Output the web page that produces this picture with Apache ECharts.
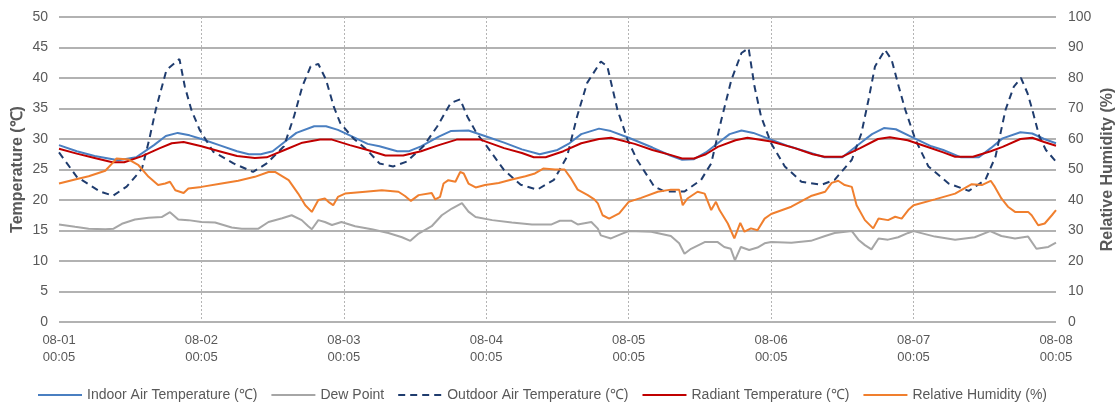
<!DOCTYPE html>
<html>
<head>
<meta charset="utf-8">
<script src="https://cdn.jsdelivr.net/npm/echarts@6/dist/echarts.min.js"></script>
<style>
html,body{margin:0;padding:0;background:#fff;}
#chart{width:1118px;height:405px;}
</style>
</head>
<body>
<div id="chart"></div>
<script>
// x values are hours since 08-01 00:05
const dayLabels = ['08-01','08-02','08-03','08-04','08-05','08-06','08-07','08-08'];
const timeLabel = '00:05';
const seriesNames = ['Indoor Air Temperature (℃)','Dew Point','Outdoor Air Temperature (℃)','Radiant Temperature (℃)','Relative Humidity (%)'];

const indoorAir = [[0,29.0],[3,28.0],[6,27.2],[10,26.5],[13,27.0],[16,29.0],[18,30.5],[20,31.0],[22,30.6],[24,30.0],[27,29.0],[30,28.0],[32,27.5],[34,27.5],[36,28.0],[38,29.5],[40,31.0],[43,32.1],[45,32.1],[47,31.5],[49,30.6],[52,29.2],[54,28.8],[57,28.0],[59,28.0],[61,28.8],[64,30.4],[66,31.3],[69,31.4],[72,30.4],[75,29.4],[78,28.3],[81,27.5],[84,28.2],[86,29.3],[88,30.8],[91,31.7],[93,31.3],[96,30.2],[100,28.6],[103,27.3],[105,26.6],[107,26.7],[109,27.8],[111,29.3],[113,30.8],[115,31.4],[117,31.0],[120,29.9],[123,28.8],[126,27.9],[129,27.0],[132,27.0],[135,29.3],[137,30.8],[139,31.8],[141,31.6],[144,30.2],[147,28.8],[149,28.2],[152,27.0],[155,27.0],[157,28.5],[159,30.1],[162,31.1],[164,30.9],[166,30.0],[168,29.3]];

const radiant = [[0,28.4],[3,27.6],[6,26.9],[9,26.2],[11,26.2],[14,27.2],[17,28.5],[19,29.3],[21,29.5],[24,28.8],[27,28.0],[30,27.2],[33,26.9],[35,27.0],[38,28.2],[41,29.4],[44,29.9],[46,29.9],[49,29.0],[52,28.2],[55,27.3],[58,27.3],[61,28.0],[64,29.0],[67,29.9],[71,29.9],[75,28.5],[78,27.7],[80,27.0],[82,27.0],[85,28.0],[88,29.3],[91,30.0],[93,30.2],[97,29.2],[100,28.2],[103,27.4],[105,26.8],[107,26.8],[109,27.5],[111,28.7],[114,29.8],[116,30.2],[120,29.6],[124,28.5],[127,27.5],[129,27.1],[132,27.1],[135,28.5],[138,30.0],[140,30.3],[143,29.8],[146,28.8],[149,27.8],[151,27.1],[154,27.1],[157,28.0],[159,28.7],[162,30.0],[164,30.2],[166,29.5],[168,28.9]];

const outdoorAir = [[0,27.8],[3,23.8],[6.9,21.4],[9.1,20.7],[11.4,22.2],[13.1,24.1],[14,25.2],[15.2,29.9],[16.3,34.8],[18.1,41.3],[20.3,43.1],[21.2,38.6],[22.3,34.8],[23.7,31.5],[26,27.9],[29.4,26.0],[32.7,24.6],[35,26.0],[37.9,28.8],[39.6,33.7],[41,38.6],[42.4,41.9],[43.7,42.3],[45,39.7],[46.3,35.3],[47.4,32.6],[49.6,30.1],[51.9,28.2],[54,26.0],[56.3,25.5],[58.6,26.3],[61.4,28.8],[63.7,32.0],[66,35.9],[67.6,36.5],[68.8,33.7],[70.4,30.9],[72.1,28.8],[75,24.9],[77.8,22.5],[80.6,21.7],[83.4,23.3],[85.6,27.1],[87.3,33.7],[89,39.2],[91.3,42.7],[92.4,41.9],[94.1,34.8],[95.8,29.9],[97.4,26.6],[100.3,22.2],[102,21.4],[105.4,21.4],[108.2,23.3],[109.9,26.0],[111.6,33.1],[113.3,39.7],[115,44.1],[116.2,44.9],[117.2,38.6],[118.3,33.7],[120,29.3],[122.3,25.5],[125.1,23.0],[128.5,22.5],[130.7,23.3],[133.6,26.6],[135.2,30.9],[136.4,36.4],[137.5,41.9],[139.2,44.6],[140.3,43.0],[141.5,38.6],[142.6,34.8],[144.3,29.9],[146.5,25.5],[149.9,22.7],[153.3,21.5],[156.1,23.3],[157.8,27.1],[159.5,34.8],[160.9,38.6],[162.1,40.0],[163.2,37.5],[164,34.8],[165.2,30.4],[166.3,28.2],[168,26.3]];

const dewPoint = [[0,16.0],[2.7,15.6],[5,15.3],[7.8,15.2],[9.2,15.3],[10.6,16.1],[12.8,16.8],[15.1,17.1],[17.3,17.2],[18.7,18.0],[20.1,16.8],[21.8,16.7],[24,16.4],[26.3,16.3],[29.1,15.5],[30.8,15.3],[33.6,15.3],[35.3,16.4],[37.6,17.0],[39.2,17.5],[40.9,16.7],[42,15.7],[42.6,15.2],[43.7,16.7],[44.8,16.4],[46,15.9],[47.6,16.4],[49.9,15.7],[52.7,15.2],[55.5,14.6],[57.8,13.9],[59.2,13.3],[60.6,14.5],[62.8,15.7],[64.5,17.5],[66.2,18.6],[67.9,19.5],[69,18.1],[70.2,17.2],[73,16.7],[76.3,16.3],[79.7,16.0],[83,16.0],[84.4,16.6],[86.3,16.6],[87.4,16.0],[89.7,16.4],[90.8,15.3],[91.3,14.2],[93,13.7],[94.7,14.4],[96,14.9],[99.8,14.8],[103.1,14.1],[104.5,12.9],[105.4,11.2],[106.5,12.0],[108.8,13.1],[111,13.1],[112.1,12.3],[113.2,12.0],[113.9,10.1],[114.9,12.3],[116.3,11.8],[117.7,12.2],[118.9,12.9],[120,13.1],[123.4,13.0],[126.7,13.3],[129.1,14.1],[130.7,14.6],[133.6,14.9],[134.7,13.5],[135.8,12.6],[136.9,11.9],[138.1,13.7],[139.7,13.5],[141.4,13.9],[143.1,14.6],[144,14.9],[147.6,14.0],[151,13.5],[154.3,13.9],[156.9,14.9],[158.8,14.1],[161.1,13.7],[163.3,14.0],[164.7,12.0],[166.7,12.3],[168,13.0]];

const relHumidity = [[0,45.4],[2.7,46.7],[5,47.8],[7.8,49.6],[9.2,52.5],[9.7,53.6],[11.7,53.3],[13.4,51.4],[15.1,47.6],[16.7,44.9],[17.9,45.4],[18.7,46.0],[19.6,43.2],[21,42.3],[21.8,43.8],[24,44.3],[27.4,45.4],[30.2,46.3],[33,47.6],[35.3,49.2],[36.4,49.2],[38.7,46.5],[40.3,42.1],[41.5,38.3],[42.6,36.1],[43.7,40.0],[44.8,40.5],[45.4,39.4],[46.2,38.3],[47,41.0],[48.2,42.1],[51.6,42.7],[54.4,43.2],[57.2,42.7],[58.3,41.3],[59.3,39.7],[60.6,41.6],[62.8,42.3],[63.4,40.2],[64.2,41.0],[64.8,45.4],[65.6,46.5],[66.8,46.0],[67.6,49.2],[68.2,48.7],[69,45.4],[70.2,44.1],[71.8,44.9],[74.1,45.6],[76.3,46.7],[78.6,47.8],[80.2,48.7],[81.6,50.3],[83.6,50.0],[85.2,50.0],[86.3,47.0],[87.4,43.4],[89.1,41.6],[90.2,40.2],[90.8,38.9],[91.6,35.0],[92.7,33.9],[94.4,35.6],[96,39.4],[98.1,40.7],[100.9,42.7],[103.1,43.4],[104.5,43.4],[105.1,38.3],[105.9,40.5],[107.6,42.7],[108.8,42.1],[109.9,36.7],[110.7,39.4],[111.3,36.7],[112.7,32.3],[113.8,27.4],[114.8,32.5],[115.5,29.6],[116.6,30.7],[117.7,30.1],[118.9,33.9],[120,35.4],[123.4,37.8],[126.7,41.3],[129.1,42.7],[130.2,45.6],[131.3,46.3],[132.4,44.9],[133.6,44.3],[134.4,38.3],[135.8,33.4],[137.2,30.7],[138.1,33.9],[139.7,33.4],[140.9,34.5],[142,33.9],[143.1,36.7],[144,38.3],[147.6,40.2],[151,42.1],[153.8,45.2],[155.5,44.9],[157,46.3],[157.7,44.3],[158.8,40.5],[159.9,37.8],[161.1,36.1],[163.3,36.1],[163.9,35.0],[165,31.7],[166.1,32.3],[167.3,35.0],[168,36.7]];

const FONT = '"Liberation Sans", Arial, sans-serif';
const TXT = '#595959';

function lineSeries(name, data, color, extra) {
  return Object.assign({
    name: name, type: 'line', data: data, showSymbol: false, symbol: 'none',
    lineStyle: { color: color, width: 2 }, itemStyle: { color: color },
    animation: false, z: 2
  }, extra || {});
}

const chart = echarts.init(document.getElementById('chart'), null, { renderer: 'canvas' });
chart.setOption({
  animation: false,
  textStyle: { fontFamily: FONT },
  grid: { left: 59, right: 62, top: 17, bottom: 83, containLabel: false, outerBoundsMode: 'none' },
  legend: {
    left: 32, top: 383, itemWidth: 44, itemHeight: 12, itemGap: 13,
    itemStyle: { opacity: 0 },
    textStyle: { color: TXT, fontSize: 14, fontFamily: FONT },
    data: seriesNames
  },
  xAxis: {
    type: 'value', min: 0, max: 168, interval: 24,
    axisLine: { show: false }, axisTick: { show: false },
    axisLabel: {
      color: TXT, fontSize: 13, lineHeight: 17, margin: 10, fontFamily: FONT,
      formatter: function (v) { return dayLabels[Math.round(v / 24)] + '\n' + timeLabel; }
    },
    splitLine: { show: true, showMinLine: false, showMaxLine: false, lineStyle: { color: '#b4b4b4', type: [2, 2], width: 1 } }
  },
  yAxis: [{
    type: 'value', min: 0, max: 50, interval: 5,
    name: 'Temperature (℃)', nameLocation: 'middle', nameRotate: 90, nameGap: 33, nameMoveOverlap: false,
    nameTextStyle: { color: TXT, fontSize: 16, fontWeight: 'bold', fontFamily: FONT },
    axisLine: { show: false }, axisTick: { show: false },
    axisLabel: { color: TXT, fontSize: 14, margin: 11, fontFamily: FONT },
    splitLine: { lineStyle: { color: '#999999', width: 1.5 } }
  }, {
    type: 'value', min: 0, max: 100, interval: 10,
    name: 'Relative Humidity (%)', nameLocation: 'middle', nameRotate: 90, nameGap: 44, nameMoveOverlap: false,
    nameTextStyle: { color: TXT, fontSize: 16, fontWeight: 'bold', fontFamily: FONT },
    axisLine: { show: false }, axisTick: { show: false },
    axisLabel: { color: TXT, fontSize: 14, margin: 12, fontFamily: FONT },
    splitLine: { show: false }
  }],
  series: [
    lineSeries(seriesNames[0], indoorAir, '#4a7fc1'),
    lineSeries(seriesNames[1], dewPoint, '#a6a6a6'),
    lineSeries(seriesNames[2], outdoorAir, '#1f3c6e', { lineStyle: { color: '#1f3c6e', width: 2, type: [7, 5] } }),
    lineSeries(seriesNames[3], radiant, '#c00000'),
    lineSeries(seriesNames[4], relHumidity, '#f07f2e', { yAxisIndex: 1 })
  ]
});
</script>
</body>
</html>
